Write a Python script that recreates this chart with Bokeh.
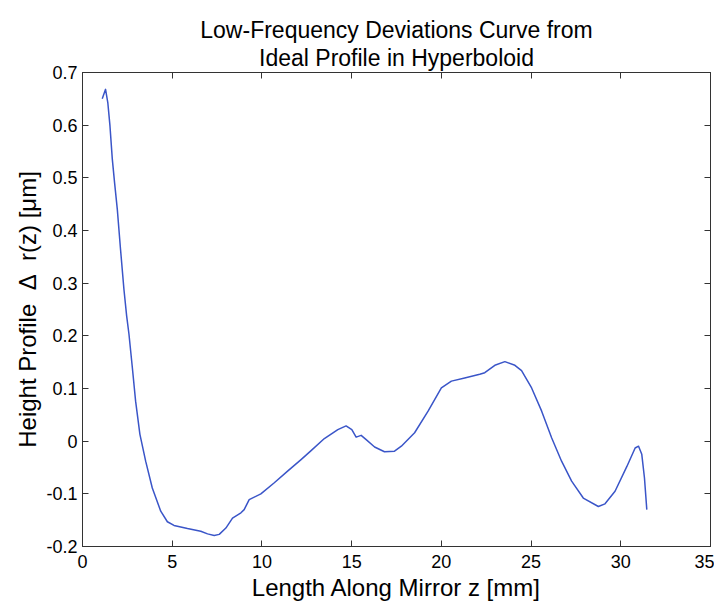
from bokeh.plotting import figure
from bokeh.models import FixedTicker, Title, LinearAxis, Range1d
from bokeh.embed import file_html
from bokeh.resources import INLINE

z_mm = [1.10, 1.285, 1.41, 1.53, 1.66, 1.79, 1.94, 2.12, 2.31, 2.46, 2.59, 2.78, 2.96,
        3.20, 3.52, 3.89, 4.36, 4.73, 5.10, 5.85, 6.59, 6.97, 7.34, 7.62, 7.99, 8.36,
        8.83, 9.01, 9.29, 9.94, 10.69, 11.43, 12.18, 12.74, 13.48, 14.23, 14.69, 15.01,
        15.25, 15.53, 15.81, 16.28, 16.83, 17.39, 17.77, 18.51, 19.26, 20.00, 20.56,
        21.30, 22.14, 22.42, 22.98, 23.54, 24.10, 24.47, 25.03, 25.59, 26.15, 26.70,
        27.26, 27.91, 28.75, 29.12, 29.68, 30.34, 30.80, 30.99, 31.17, 31.32, 31.45]
dr_um = [0.650, 0.668, 0.643, 0.599, 0.536, 0.490, 0.440, 0.364, 0.288, 0.238, 0.203,
         0.139, 0.076, 0.013, -0.038, -0.089, -0.133, -0.153, -0.160, -0.166, -0.171,
         -0.176, -0.179, -0.177, -0.165, -0.146, -0.136, -0.130, -0.111, -0.100, -0.079,
         -0.057, -0.035, -0.018, 0.005, 0.022, 0.029, 0.022, 0.0076, 0.011, 0.003,
         -0.011, -0.020, -0.019, -0.0095, 0.016, 0.057, 0.101, 0.114, 0.120, 0.127,
         0.130, 0.144, 0.151, 0.144, 0.134, 0.101, 0.057, 0.006, -0.038, -0.076,
         -0.108, -0.124, -0.119, -0.095, -0.048, -0.013, -0.0095, -0.025, -0.070, -0.130]

x_ticks = [0, 5, 10, 15, 20, 25, 30, 35]
y_ticks = [-0.2, -0.1, 0, 0.1, 0.2, 0.3, 0.4, 0.5, 0.6, 0.7]
y_tick_labels = {v: ("0" if v == 0 else f"{v:.1f}") for v in y_ticks}
title_lines = ["Low-Frequency Deviations Curve from", "Ideal Profile in Hyperboloid"]

FONT = "Liberation Sans"

p = figure(frame_width=628, frame_height=474, output_backend="svg", toolbar_location=None,
           x_range=Range1d(0, 35), y_range=Range1d(-0.2, 0.7),
           min_border_left=82, min_border_right=4, min_border_top=72, min_border_bottom=60,
           background_fill_color="white", border_fill_color="white")
p.xgrid.visible = False
p.ygrid.visible = False
p.outline_line_color = "#333333"

p.line(z_mm, dr_um, line_color="#3a55c8", line_width=1.5, line_join="round")

for ax in (p.xaxis[0], p.yaxis[0]):
    ax.major_tick_in = 6
    ax.major_tick_out = 0
    ax.minor_tick_in = 0
    ax.minor_tick_out = 0
    ax.axis_line_color = "#333333"
    ax.major_tick_line_color = "#333333"
    ax.major_label_text_font = FONT
    ax.major_label_text_font_size = "18px"
    ax.major_label_text_color = "black"
    ax.axis_label_text_font = FONT
    ax.axis_label_text_font_size = "24px"
    ax.axis_label_text_font_style = "normal"
    ax.axis_label_text_color = "black"

p.xaxis.ticker = FixedTicker(ticks=x_ticks)
p.yaxis.ticker = FixedTicker(ticks=y_ticks)
p.yaxis.major_label_overrides = y_tick_labels
p.xaxis.axis_label = "Length Along Mirror z [mm]"
p.yaxis.axis_label = "Height Profile\u00a0\u00a0\u0394\u00a0\u00a0r(z) [\u03bcm]"
p.xaxis.major_label_standoff = 8
p.yaxis.major_label_standoff = 5
p.xaxis.axis_label_standoff = 3
p.yaxis.axis_label_standoff = 2

for side, ticks in (("right", y_ticks), ("above", x_ticks)):
    a = LinearAxis(ticker=FixedTicker(ticks=ticks))
    a.major_tick_in = 6
    a.major_tick_out = 0
    a.minor_tick_in = 0
    a.minor_tick_out = 0
    a.major_label_standoff = 0
    a.major_label_text_font_size = "0px"
    a.major_label_text_alpha = 0
    a.axis_line_color = "#333333"
    a.major_tick_line_color = "#333333"
    p.add_layout(a, side)

for line in reversed(title_lines):
    p.add_layout(Title(text=line, align="center", vertical_align="top",
                       text_font=FONT, text_font_size="23px", text_font_style="normal",
                       text_color="black", standoff=0), "above")

open("out.html", "w").write(file_html(p, INLINE))
